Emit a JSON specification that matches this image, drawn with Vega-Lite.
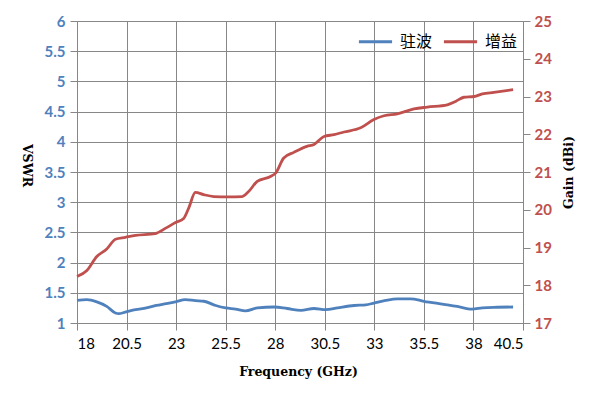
{
  "$schema": "https://vega.github.io/schema/vega-lite/v6.json",
  "autosize": "none",
  "width": 446,
  "height": 302,
  "padding": {"left": 77, "top": 21, "right": 71, "bottom": 81},
  "background": "white",
  "config": {"view": {"stroke": null}},
  "data": {"values": [
    {"f": 18.0, "s": "驻波", "v": 1.374},
    {"f": 18.5, "s": "驻波", "v": 1.386},
    {"f": 19.0, "s": "驻波", "v": 1.35},
    {"f": 19.5, "s": "驻波", "v": 1.275},
    {"f": 19.94, "s": "驻波", "v": 1.166},
    {"f": 20.1, "s": "驻波", "v": 1.154},
    {"f": 20.44, "s": "驻波", "v": 1.18},
    {"f": 20.95, "s": "驻波", "v": 1.22},
    {"f": 21.5, "s": "驻波", "v": 1.25},
    {"f": 22.0, "s": "驻波", "v": 1.29},
    {"f": 22.5, "s": "驻波", "v": 1.32},
    {"f": 22.97, "s": "驻波", "v": 1.35},
    {"f": 23.47, "s": "驻波", "v": 1.386},
    {"f": 23.97, "s": "驻波", "v": 1.37},
    {"f": 24.4, "s": "驻波", "v": 1.36},
    {"f": 25.0, "s": "驻波", "v": 1.29},
    {"f": 25.5, "s": "驻波", "v": 1.25},
    {"f": 26.0, "s": "驻波", "v": 1.23},
    {"f": 26.5, "s": "驻波", "v": 1.2},
    {"f": 27.1, "s": "驻波", "v": 1.25},
    {"f": 27.95, "s": "驻波", "v": 1.265},
    {"f": 28.6, "s": "驻波", "v": 1.24},
    {"f": 29.3, "s": "驻波", "v": 1.21},
    {"f": 29.96, "s": "驻波", "v": 1.24},
    {"f": 30.55, "s": "驻波", "v": 1.22},
    {"f": 31.14, "s": "驻波", "v": 1.25},
    {"f": 31.98, "s": "驻波", "v": 1.29},
    {"f": 32.57, "s": "驻波", "v": 1.3},
    {"f": 32.98, "s": "驻波", "v": 1.33},
    {"f": 33.57, "s": "驻波", "v": 1.374},
    {"f": 34.16, "s": "驻波", "v": 1.4},
    {"f": 34.83, "s": "驻波", "v": 1.4},
    {"f": 35.5, "s": "驻波", "v": 1.36},
    {"f": 36.5, "s": "驻波", "v": 1.31},
    {"f": 37.18, "s": "驻波", "v": 1.275},
    {"f": 37.93, "s": "驻波", "v": 1.23},
    {"f": 38.45, "s": "驻波", "v": 1.25},
    {"f": 39.03, "s": "驻波", "v": 1.26},
    {"f": 40.0, "s": "驻波", "v": 1.265},
    {"f": 18.0, "s": "增益", "v": 18.23},
    {"f": 18.5, "s": "增益", "v": 18.39},
    {"f": 19.0, "s": "增益", "v": 18.76},
    {"f": 19.5, "s": "增益", "v": 18.96},
    {"f": 19.94, "s": "增益", "v": 19.22},
    {"f": 20.44, "s": "增益", "v": 19.27},
    {"f": 20.95, "s": "增益", "v": 19.32},
    {"f": 21.95, "s": "增益", "v": 19.37},
    {"f": 22.5, "s": "增益", "v": 19.52},
    {"f": 22.97, "s": "增益", "v": 19.66},
    {"f": 23.38, "s": "增益", "v": 19.77},
    {"f": 23.64, "s": "增益", "v": 20.05},
    {"f": 23.97, "s": "增益", "v": 20.46},
    {"f": 24.39, "s": "增益", "v": 20.4},
    {"f": 24.9, "s": "增益", "v": 20.35},
    {"f": 25.6, "s": "增益", "v": 20.34},
    {"f": 26.33, "s": "增益", "v": 20.35},
    {"f": 26.67, "s": "增益", "v": 20.49},
    {"f": 27.09, "s": "增益", "v": 20.75},
    {"f": 27.76, "s": "增益", "v": 20.88},
    {"f": 28.02, "s": "增益", "v": 20.97},
    {"f": 28.43, "s": "增益", "v": 21.37},
    {"f": 28.94, "s": "增益", "v": 21.52},
    {"f": 29.6, "s": "增益", "v": 21.68},
    {"f": 29.96, "s": "增益", "v": 21.73},
    {"f": 30.46, "s": "增益", "v": 21.94},
    {"f": 30.97, "s": "增益", "v": 21.99},
    {"f": 31.47, "s": "增益", "v": 22.06},
    {"f": 32.31, "s": "增益", "v": 22.17},
    {"f": 32.98, "s": "增益", "v": 22.39},
    {"f": 33.49, "s": "增益", "v": 22.49},
    {"f": 34.16, "s": "增益", "v": 22.54},
    {"f": 35.0, "s": "增益", "v": 22.67},
    {"f": 35.67, "s": "增益", "v": 22.72},
    {"f": 36.68, "s": "增益", "v": 22.78},
    {"f": 37.1, "s": "增益", "v": 22.87},
    {"f": 37.52, "s": "增益", "v": 22.98},
    {"f": 38.03, "s": "增益", "v": 23.0},
    {"f": 38.45, "s": "增益", "v": 23.07},
    {"f": 39.03, "s": "增益", "v": 23.11},
    {"f": 40.0, "s": "增益", "v": 23.18}
  ]},
  "encoding": {
    "x": {
      "field": "f", "type": "quantitative",
      "scale": {"domain": [18, 40.5], "nice": false, "zero": false},
      "axis": {
        "values": [18, 20.5, 23, 25.5, 28, 30.5, 33, 35.5, 38, 40.5],
        "labelExpr": "'' + datum.value",
        "title": "Frequency (GHz)",
        "titleFont": "DejaVu Serif", "titleFontSize": 12.5, "titleFontWeight": "bold", "titleColor": "black",
        "titleX": 221, "titleY": 48, "titleBaseline": "middle", "titleAlign": "center",
        "labelFont": "Lato", "labelFontSize": 15, "labelColor": "black", "labelPadding": 6,
        "grid": true, "gridColor": "#878787", "gridWidth": 1,
        "domainColor": "#878787", "tickColor": "#878787", "tickSize": 7
      }
    },
    "color": {
      "field": "s", "type": "nominal",
      "scale": {"domain": ["驻波", "增益"], "range": ["#4F81BD", "#C0504D"]},
      "legend": {
        "title": null, "orient": "none", "legendX": 280, "legendY": 2, "direction": "horizontal",
        "symbolType": "stroke", "symbolSize": 1100, "symbolStrokeWidth": 3,
        "labelFont": "Noto Sans CJK SC", "labelFontSize": 16, "labelColor": "black",
        "labelOffset": 6, "columnPadding": 4
      }
    }
  },
  "layer": [
    {
      "transform": [{"filter": "datum.s === '驻波'"}],
      "mark": {"type": "line", "interpolate": "monotone", "strokeWidth": 2.8},
      "encoding": {
        "y": {
          "field": "v", "type": "quantitative",
          "scale": {"domain": [1, 6], "nice": false, "zero": false},
          "axis": {
            "orient": "left",
            "values": [1, 1.5, 2, 2.5, 3, 3.5, 4, 4.5, 5, 5.5, 6],
            "labelExpr": "'' + datum.value",
            "title": "VSWR", "titleAngle": 90,
            "titleFont": "DejaVu Serif", "titleFontSize": 12.5, "titleFontWeight": "bold", "titleColor": "black",
            "titleX": -51, "titleY": 144, "titleBaseline": "middle", "titleAlign": "center",
            "labelFont": "Lato", "labelFontSize": 15, "labelFontWeight": "bold", "labelColor": "#4F81BD",
            "labelPadding": 5,
            "grid": true, "gridColor": "#878787", "gridWidth": 1,
            "domainColor": "#878787", "tickColor": "#878787", "tickSize": 7
          }
        }
      }
    },
    {
      "transform": [{"filter": "datum.s === '增益'"}],
      "mark": {"type": "line", "interpolate": "monotone", "strokeWidth": 2.8},
      "encoding": {
        "y": {
          "field": "v", "type": "quantitative",
          "scale": {"domain": [17, 25], "nice": false, "zero": false},
          "axis": {
            "orient": "right",
            "values": [17, 18, 19, 20, 21, 22, 23, 24, 25],
            "title": "Gain (dBi)", "titleAngle": -90,
            "titleFont": "DejaVu Serif", "titleFontSize": 12.5, "titleFontWeight": "bold", "titleColor": "black",
            "titleX": 45, "titleY": 151, "titleBaseline": "middle", "titleAlign": "center",
            "labelFont": "Lato", "labelFontSize": 15, "labelFontWeight": "bold", "labelColor": "#C0504D",
            "labelPadding": 4,
            "grid": false,
            "domainColor": "#878787", "tickColor": "#878787", "tickSize": 7
          }
        }
      }
    }
  ],
  "resolve": {"scale": {"y": "independent"}}
}
